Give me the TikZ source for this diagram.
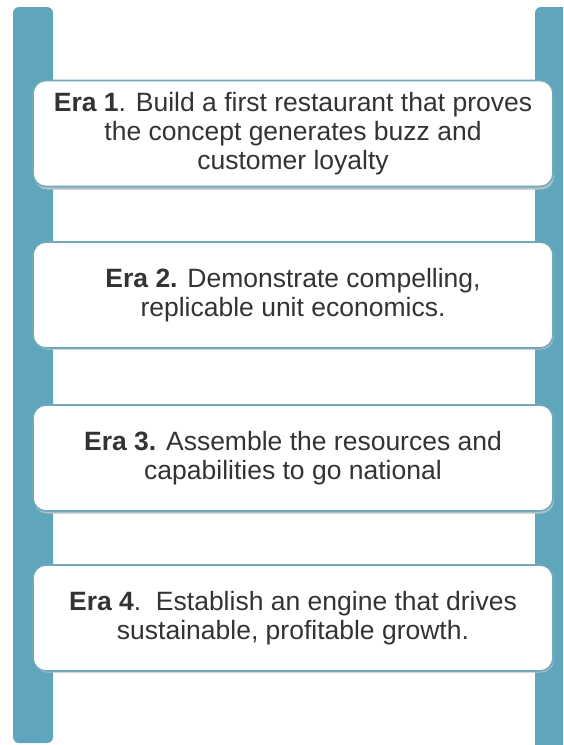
\documentclass[tikz,border=0pt]{standalone}
\usepackage{fontspec}
\setmainfont{Liberation Sans}
\definecolor{railblue}{HTML}{5FA6BC}
\definecolor{edgeblue}{HTML}{6FA9BB}
\definecolor{textgray}{HTML}{333333}

\begin{document}
\begin{tikzpicture}[x=1pt,y=-1pt,
  era/.style={rectangle,rounded corners=13pt,fill=white,draw=edgeblue,line width=1.6pt,
    minimum width=520pt,minimum height=106pt,align=center,text=textgray,
    font=\fontsize{26.5}{29}\selectfont,inner sep=0pt},
  eshadow/.style={fill=edgeblue!60!black!40,rounded corners=13pt}]

\useasboundingbox (0,0) rectangle (563,745);
\clip (0,0) rectangle (563,745);

% the two rails of the ladder
\fill[color=railblue,rounded corners=6pt] (13,7) rectangle (53,743);
\fill[color=railblue,rounded corners=6pt] (535,7) rectangle (580,760);

% shadows under the rungs
\fill[eshadow] (34,82.5) rectangle (554,189.5);
\fill[eshadow] (34,242.5) rectangle (554,349.5);
\fill[eshadow] (34,405.5) rectangle (554,513.5);
\fill[eshadow] (34,565.5) rectangle (554,672.5);

% the rungs
\node[era] (era1) at (293,133.5) {\textbf{Era 1}. Build a first restaurant that proves\\
  the concept generates buzz and\\customer loyalty};
\node[era] (era2) at (293,295) {\textbf{Era 2.} Demonstrate compelling,\\
  replicable unit economics.};
\node[era] (era3) at (293,458) {\textbf{Era 3.} Assemble the resources and\\
  capabilities to go national};
\node[era] (era4) at (293,618) {\textbf{Era 4}.\ \ Establish an engine that drives\\
  sustainable, profitable growth.};

\end{tikzpicture}
\end{document}
